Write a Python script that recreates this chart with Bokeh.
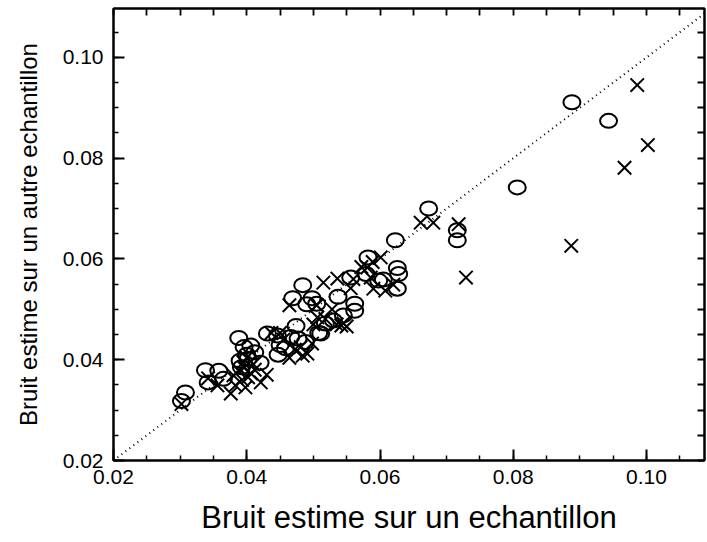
from bokeh.plotting import figure
from bokeh.models import LinearAxis, FixedTicker, CustomJSTickFormatter, Range1d
from bokeh.embed import file_html
from bokeh.resources import INLINE

# Data
circle_x = [0.0302, 0.0308, 0.0338, 0.0342, 0.0358, 0.0365, 0.0388, 0.0396, 0.0406, 0.0390,
            0.0420, 0.0400, 0.0412, 0.0431, 0.0446, 0.0450, 0.0447, 0.0469, 0.0484, 0.0474,
            0.0477, 0.0466, 0.0498, 0.0505, 0.0508, 0.0518, 0.0537, 0.0556, 0.0562, 0.0562,
            0.0582, 0.0579, 0.0605, 0.0626, 0.0628, 0.0626, 0.0623, 0.0673, 0.0716, 0.0716,
            0.0806, 0.0888, 0.0943, 0.0530, 0.0488, 0.0598, 0.0511, 0.0392, 0.0402, 0.0458,
            0.0490, 0.0545]
circle_y = [0.0318, 0.0335, 0.0379, 0.0355, 0.0378, 0.0362, 0.0443, 0.0425, 0.0428, 0.0398,
            0.0394, 0.0410, 0.0415, 0.0452, 0.0448, 0.0429, 0.0410, 0.0522, 0.0548, 0.0467,
            0.0442, 0.0445, 0.0522, 0.0511, 0.0453, 0.0472, 0.0525, 0.0563, 0.0511, 0.0497,
            0.0603, 0.0570, 0.0559, 0.0582, 0.0570, 0.0541, 0.0637, 0.0700, 0.0657, 0.0637,
            0.0742, 0.0911, 0.0874, 0.0478, 0.0435, 0.0557, 0.0452, 0.0385, 0.0402, 0.0423,
            0.0510, 0.0488]

cross_x = [0.0302, 0.0342, 0.0356, 0.0376, 0.0383, 0.0393, 0.0398, 0.0396, 0.0400, 0.0406,
           0.0421, 0.0410, 0.0430, 0.0380, 0.0437, 0.0450, 0.0464, 0.0464, 0.0484, 0.0491,
           0.0498, 0.0481, 0.0505, 0.0506, 0.0518, 0.0515, 0.0536, 0.0535, 0.0545, 0.0550,
           0.0542, 0.0556, 0.0572, 0.0581, 0.0589, 0.0601, 0.0586, 0.0590, 0.0608, 0.0620,
           0.0661, 0.0680, 0.0718, 0.0729, 0.0887, 0.0967, 0.0986, 0.1002, 0.0388, 0.0395,
           0.0402, 0.0412, 0.0455, 0.0472, 0.0500, 0.0528, 0.0560]
cross_y = [0.0312, 0.0363, 0.0349, 0.0333, 0.0349, 0.0360, 0.0345, 0.0384, 0.0404, 0.0373,
           0.0355, 0.0391, 0.0370, 0.0369, 0.0453, 0.0453, 0.0404, 0.0508, 0.0408, 0.0412,
           0.0432, 0.0425, 0.0508, 0.0484, 0.0481, 0.0553, 0.0561, 0.0470, 0.0472, 0.0466,
           0.0468, 0.0542, 0.0584, 0.0583, 0.0594, 0.0603, 0.0563, 0.0541, 0.0537, 0.0549,
           0.0672, 0.0672, 0.0669, 0.0563, 0.0626, 0.0781, 0.0945, 0.0826, 0.0378, 0.0395,
           0.0365, 0.0380, 0.0440, 0.0420, 0.0470, 0.0500, 0.0560]

diag = [0.02, 0.11]

major_ticks = [0.02, 0.04, 0.06, 0.08, 0.10]
minor_ticks = [0.02 + 0.005 * i for i in range(19)]

FONT = "Liberation Sans"

p = figure(width=707, height=542, output_backend="svg", toolbar_location=None,
           x_range=Range1d(0.02, 0.1087), y_range=Range1d(0.02, 0.1097),
           x_axis_label="Bruit estime sur un echantillon",
           y_axis_label="Bruit estime sur un autre echantillon",
           min_border_left=113, min_border_right=3, min_border_top=8, min_border_bottom=82)
p.grid.visible = False
p.outline_line_color = "black"
p.outline_line_width = 2
p.background_fill_color = "white"
p.border_fill_color = "white"

fmt = CustomJSTickFormatter(code="return tick.toFixed(2);")

for ax in (p.xaxis[0], p.yaxis[0]):
    ax.ticker = FixedTicker(ticks=major_ticks, minor_ticks=minor_ticks)
    ax.formatter = fmt
    ax.major_tick_in = 11
    ax.major_tick_out = 0
    ax.minor_tick_in = 5
    ax.minor_tick_out = 0
    ax.major_tick_line_width = 2
    ax.minor_tick_line_width = 1.5
    ax.axis_line_width = 2
    ax.axis_line_color = "black"
    ax.major_tick_line_color = "black"
    ax.minor_tick_line_color = "black"
    ax.major_label_text_font = FONT
    ax.major_label_text_font_size = "21px"
    ax.major_label_text_color = "black"
    ax.axis_label_text_font = FONT
    ax.axis_label_text_font_style = "normal"
    ax.axis_label_text_color = "black"

p.xaxis[0].major_label_standoff = 9
p.xaxis[0].axis_label_text_font_size = "31px"
p.xaxis[0].axis_label_standoff = 13
p.yaxis[0].major_label_standoff = 10
p.yaxis[0].axis_label_text_font_size = "24px"
p.yaxis[0].axis_label_standoff = 18

for side in ("above", "right"):
    ax = LinearAxis(ticker=FixedTicker(ticks=[], minor_ticks=minor_ticks))
    ax.minor_tick_in = 7
    ax.minor_tick_out = 0
    ax.major_tick_in = 0
    ax.major_tick_out = 0
    ax.minor_tick_line_width = 1.8
    ax.axis_line_width = 2
    ax.axis_line_color = "black"
    ax.minor_tick_line_color = "black"
    p.add_layout(ax, side)

p.line(diag, diag, line_color="black", line_width=2, line_dash="1 4")

p.ellipse(x=circle_x, y=circle_y, width=17, height=14,
          width_units="screen", height_units="screen",
          fill_color=None, line_color="black", line_width=2)
p.scatter(x=cross_x, y=cross_y, marker="x", size=19,
          line_color="black", line_width=2)

open("out.html", "w").write(file_html(p, INLINE))
